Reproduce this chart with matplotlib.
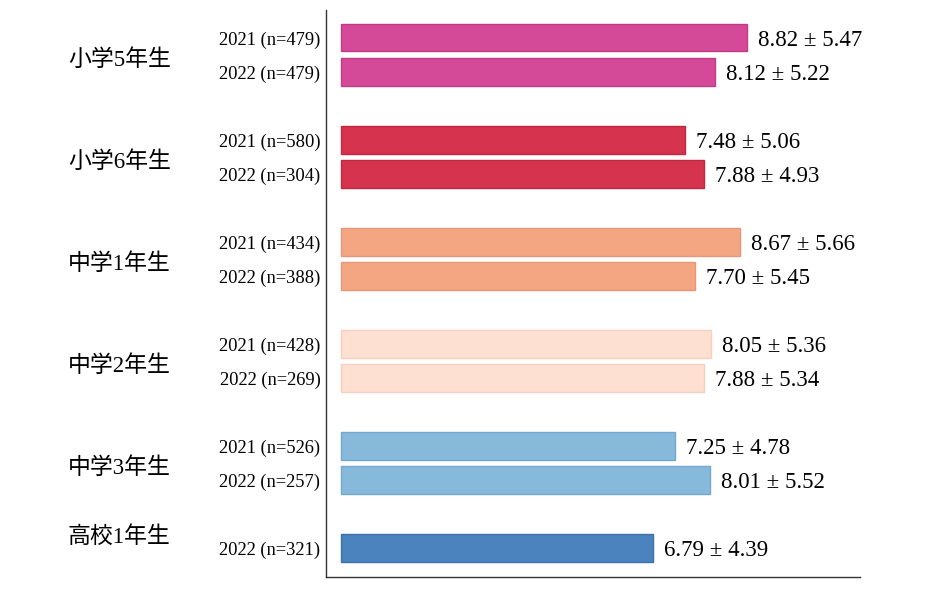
import numpy as np
import matplotlib.pyplot as plt
from matplotlib.transforms import blended_transform_factory

groups = ['小学5年生', '小学6年生', '中学1年生', '中学2年生', '中学3年生', '高校1年生']
labels = ['2021 (n=479)', '2022 (n=479)',
          '2021 (n=580)', '2022 (n=304)',
          '2021 (n=434)', '2022 (n=388)',
          '2021 (n=428)', '2022 (n=269)',
          '2021 (n=526)', '2022 (n=257)',
          '2022 (n=321)']
means = [8.82, 8.12, 7.48, 7.88, 8.67, 7.70, 8.05, 7.88, 7.25, 8.01, 6.79]
sds = [5.47, 5.22, 5.06, 4.93, 5.66, 5.45, 5.36, 5.34, 4.78, 5.52, 4.39]
group_of_bar = [0, 0, 1, 1, 2, 2, 3, 3, 4, 4, 5]

colors = ['#D44A98', '#D6334E', '#F4A582', '#FDE0D1', '#86B9DA', '#4A83BD']
edges = ['#C23A88', '#C02840', '#E8967A', '#F5D0C0', '#74A8CC', '#3A72AC']

# slot layout: 2 bars per group, one empty slot between groups
pos = [0, 1, 3, 4, 6, 7, 9, 10, 12, 13, 15]

plt.rcParams['font.family'] = ['Liberation Serif', 'Noto Sans CJK JP']

fig = plt.figure(figsize=(9.3, 6.06), dpi=100)
ax = fig.add_axes([0.3505, 0.0479, 0.5742, 0.9356])

for p, m, s, g in zip(pos, means, sds, group_of_bar):
    ax.barh(p, m, height=0.8, color=colors[g], edgecolor=edges[g], linewidth=1)
    ax.text(m + 0.24, p, f'{m:.2f} ± {s:.2f}', va='center_baseline', ha='left', fontsize=16.5)

ax.set_yticks(pos)
ax.set_yticklabels(labels, fontsize=13.3)
ax.tick_params(axis='y', length=0, pad=4)
ax.set_xticks([])
ax.set_xlim(-0.326, 11.28)
ax.set_ylim(15.85, -0.82)

for side in ['top', 'right']:
    ax.spines[side].set_visible(False)
for side in ['left', 'bottom']:
    ax.spines[side].set_color('#333333')
    ax.spines[side].set_linewidth(1)

# group labels, centred on their bars (a little low, as in the original)
tr = blended_transform_factory(fig.transFigure, ax.transData)
group_y = [0.58, 3.58, 6.58, 9.58, 12.58, 14.6]
for name, gy in zip(groups, group_y):
    ax.text(68 / 930, gy, name, transform=tr, ha='left', va='center_baseline', fontsize=16.5)

fig.savefig('out.png', dpi=100)
